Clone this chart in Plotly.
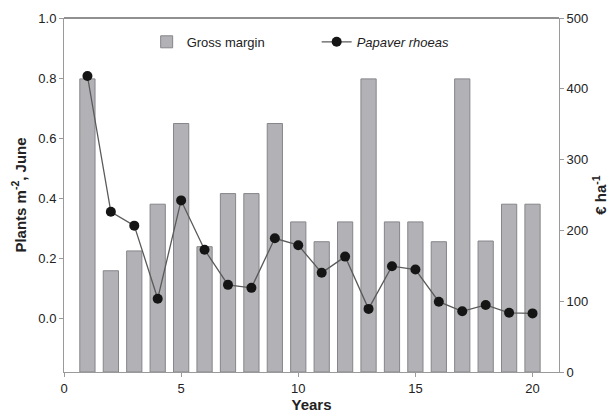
import plotly.graph_objects as go

years = list(range(1, 21))
gross_margin = [414, 143, 171, 237, 351, 177, 252, 252, 351, 212,
                184, 212, 414, 212, 212, 184, 414, 185, 237, 237]
papaver = [0.807, 0.355, 0.309, 0.066, 0.393, 0.229, 0.112, 0.102, 0.267, 0.244,
           0.152, 0.206, 0.032, 0.174, 0.163, 0.056, 0.024, 0.045, 0.019, 0.017]

left_ticks = [0.0, 0.2, 0.4, 0.6, 0.8, 1.0]
right_ticks = [0, 100, 200, 300, 400, 500]
x_ticks = [0, 5, 10, 15, 20]

FONT = "Liberation Sans, Arial, sans-serif"
AXIS_GRAY = "#9a9a9a"

fig = go.Figure()
fig.add_trace(go.Bar(
    x=years, y=gross_margin, name="Gross margin", yaxis="y",
    width=0.65, marker=dict(color="#b2b2b6", line=dict(color="#85858a", width=1)),
))
fig.add_trace(go.Scatter(
    x=years, y=papaver, name="<i>Papaver rhoeas</i>", yaxis="y2",
    mode="lines+markers",
    line=dict(color="#5a5a5a", width=1.3),
    marker=dict(color="#151515", size=10),
))

fig.update_layout(
    width=613, height=413,
    margin=dict(l=64, r=54, t=18, b=41),
    paper_bgcolor="white", plot_bgcolor="white",
    font=dict(family=FONT, size=13, color="#222"),
    showlegend=True,
    legend=dict(orientation="h", x=0.167, xanchor="left", y=0.975, yanchor="top",
                bgcolor="rgba(255,255,255,0.85)", font=dict(size=13),
                entrywidth=125, traceorder="normal"),
    xaxis=dict(range=[0, 21.13], tickvals=x_ticks, showgrid=False, zeroline=False,
               showline=True, linecolor=AXIS_GRAY, linewidth=1, automargin=False,
               ticks="outside", ticklen=4, tickcolor=AXIS_GRAY,
               title=dict(text="<b>Years</b>", font=dict(size=15), standoff=0)),
    yaxis=dict(range=[0, 500], tickvals=right_ticks, side="right", showgrid=False,
               zeroline=False, showline=True, linecolor=AXIS_GRAY, linewidth=1,
               automargin=False,
               ticks="outside", ticklen=4, tickcolor=AXIS_GRAY,
               title=dict(text="<b>€ ha<sup>-1</sup></b>", font=dict(size=15), standoff=8)),
    yaxis2=dict(range=[-0.178, 1.0], tickvals=left_ticks, tickformat=".1f",
                side="left", overlaying="y", showgrid=False, zeroline=False,
                showline=True, linecolor=AXIS_GRAY, linewidth=1, automargin=False,
                ticks="outside", ticklen=4, tickcolor=AXIS_GRAY,
                title=dict(text="<b>Plants m<sup>-2</sup>, June</b>", font=dict(size=15), standoff=8)),
    shapes=[dict(type="line", xref="paper", yref="paper", x0=0, x1=1, y0=1, y1=1,
                 line=dict(color="#222", width=1.2))],
)

fig.write_html("out.html")
